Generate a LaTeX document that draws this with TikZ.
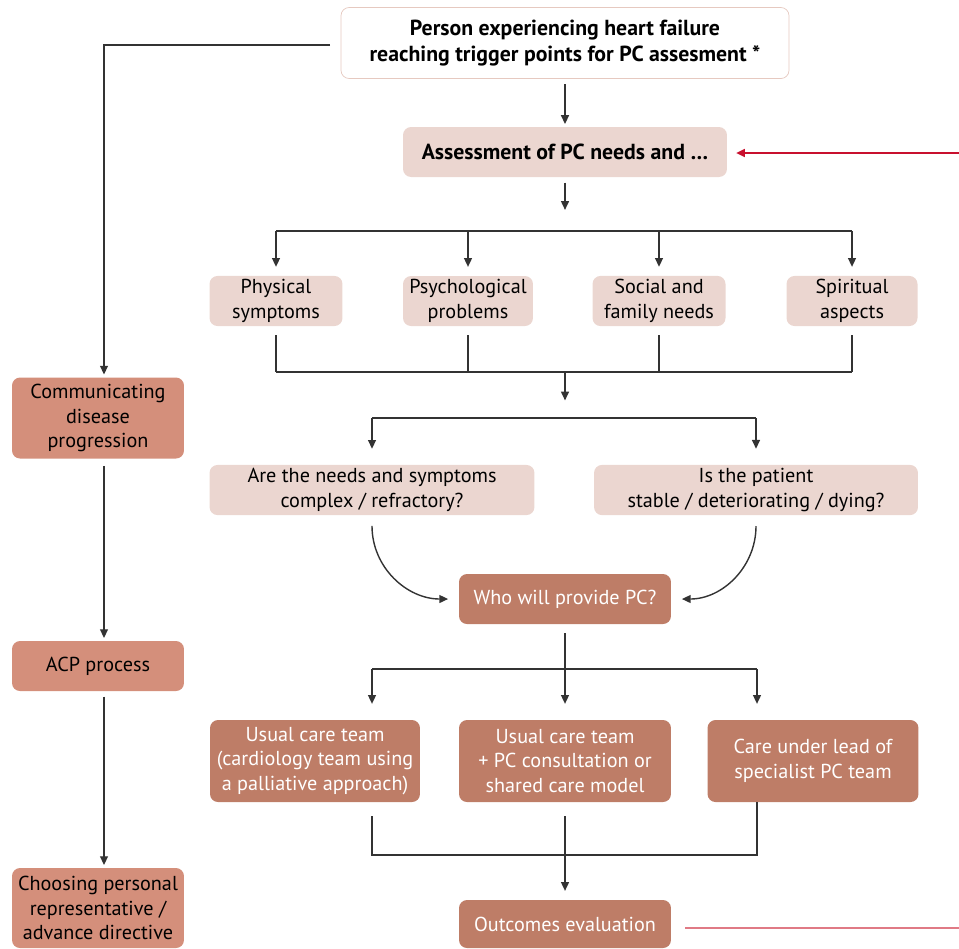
\documentclass[tikz,border=0pt]{standalone}
\usepackage{fontspec}
\setmainfont{PT Sans}
\usetikzlibrary{arrows.meta}

\definecolor{boxlight}{HTML}{EBD6D0}
\definecolor{boxmid}{HTML}{D48F7B}
\definecolor{boxdark}{HTML}{BE7D67}
\definecolor{topline}{HTML}{E6C9C0}
\definecolor{linegrey}{HTML}{333333}
\definecolor{redarrow}{HTML}{C8102E}
\definecolor{redline}{HTML}{E07A85}

\newcommand{\fs}{\fontsize{11.5}{14}\selectfont}
\newcommand{\fsb}{\fontsize{12.4}{14.5}\selectfont\bfseries}

\tikzset{
	box/.style={rounded corners=0.16cm, minimum height=1cm, align=center, inner sep=2pt, font=\fs},
	light/.style={box, fill=boxlight},
	mid/.style={box, fill=boxmid, minimum width=3.44cm},
	dark/.style={box, fill=boxdark, text=white},
	con/.style={draw=linegrey, line width=0.8pt},
	arr/.style={con, -{Triangle[length=5pt,width=4.5pt]}, shorten >=1.5pt}
}

\begin{document}
\begin{tikzpicture}[x=0.02cm,y=-0.02cm]
	\useasboundingbox (0,0) rectangle (959,948);
	
	\node[box, draw=topline, fill=white, minimum width=8.96cm, minimum height=1.42cm, font=\fsb] (person) at (565,43) {Person experiencing heart failure\\reaching trigger points for PC assesment *};
	\node[light, minimum width=6.48cm, font=\fsb] (assess) at (565,152) {Assessment of PC needs and …};
	
	\node[light, minimum width=2.66cm] (phys) at (276,301) {Physical\\symptoms};
	\node[light, minimum width=2.6cm] (psych) at (468,301) {Psychological\\problems};
	\node[light, minimum width=2.66cm] (social) at (659,301) {Social and\\family needs};
	\node[light, minimum width=2.62cm] (spirit) at (852,301) {Spiritual\\aspects};
	
	\node[light, minimum width=6.5cm] (complex) at (372,490) {Are the needs and symptoms\\complex / refractory?};
	\node[light, minimum width=6.48cm] (stable) at (756,490) {Is the patient\\stable / deteriorating / dying?};
	
	\node[dark, minimum width=4.24cm] (who) at (565,599) {Who will provide PC?};
	
	\node[dark, minimum width=4.2cm, minimum height=1.64cm] (usual) at (315,761) {Usual care team\\(cardiology team using\\a palliative approach)};
	\node[dark, minimum width=4.24cm, minimum height=1.64cm] (shared) at (565,761) {Usual care team\\+ PC consultation or\\shared care model};
	\node[dark, minimum width=4.22cm, minimum height=1.64cm] (lead) at (813,761) {Care under lead of\\specialist PC team};
	
	\node[dark, minimum width=4.24cm, minimum height=0.96cm] (outcome) at (565,924) {Outcomes evaluation};
	
	\node[mid, minimum height=1.62cm] (commun) at (98,418) {Communicating\\disease\\progression};
	\node[mid] (acp) at (98,666) {ACP process};
	\node[mid, minimum height=1.6cm] (choose) at (98,908) {Choosing personal\\representative /\\advance directive};
	
	% left column
	\coordinate (corner) at (104,45);
	\draw[arr, shorten <=6pt] (corner -| person.west) -- (corner) -- (corner |- commun.north);
	\draw[arr, shorten <=4pt] (corner |- commun.south) -- (corner |- acp.north);
	\draw[arr, shorten <=3pt] (corner |- acp.south) -- (corner |- choose.north);
	
	% assessment and the four needs
	\draw[arr, shorten <=3pt] (person) -- (assess);
	\coordinate (split1) at (565,231);
	\draw[arr, shorten <=3pt, shorten >=12pt] (assess) -- (split1);
	\draw[con] (phys |- split1) -- (spirit |- split1);
	\foreach \n in {phys,psych,social,spirit}
		\draw[arr, shorten >=5pt] (\n |- split1) -- (\n);
	
	\coordinate (join1) at (565,372);
	\draw[con] (phys |- join1) -- (spirit |- join1);
	\foreach \n in {phys,psych,social,spirit}
		\draw[con, shorten <=5pt] (\n) -- (\n |- join1);
	
	\coordinate (split2) at (565,418);
	\draw[arr, shorten >=10pt] (join1) -- (split2);
	\draw[con] (complex |- split2) -- (stable |- split2);
	\draw[arr, shorten >=9pt] (complex |- split2) -- (complex);
	\draw[arr, shorten >=9pt] (stable |- split2) -- (stable);
	
	\draw[arr, shorten <=6pt, shorten >=6pt] (complex.south) to[out=-90, in=180, looseness=1.1] (who.west);
	\draw[arr, shorten <=6pt, shorten >=6pt] (stable.south) to[out=-90, in=0, looseness=1.1] (who.east);
	
	% who provides care
	\coordinate (split3) at (565,669);
	\draw[con, shorten <=5pt] (who) -- (split3);
	\coordinate (t1) at (372,669);
	\coordinate (t3) at (757,669);
	\draw[con] (t1) -- (t3);
	\draw[arr, shorten >=9pt] (t1) -- (t1 |- usual.north);
	\draw[arr, shorten >=9pt] (split3) -- (shared);
	\draw[arr, shorten >=9pt] (t3) -- (t3 |- lead.north);
	
	\coordinate (join2) at (565,855);
	\draw[con, shorten <=8pt] (t1 |- usual.south) -- (t1 |- join2) -- (t3 |- join2) -- (t3 |- lead.south);
	\draw[arr, shorten <=8pt, shorten >=5pt] (shared) -- (outcome);
	
	% feedback
	\coordinate (backlow) at (959,928);
	\coordinate (backtop) at (959,153);
	\draw[redline, line width=1pt, shorten <=8pt] (outcome.east |- backlow) -- (backlow);
	\draw[redarrow, line width=1pt, -{Triangle[length=5pt,width=4.5pt]}, shorten >=5pt] (backtop) -- (assess.east |- backtop);
\end{tikzpicture}
\end{document}
